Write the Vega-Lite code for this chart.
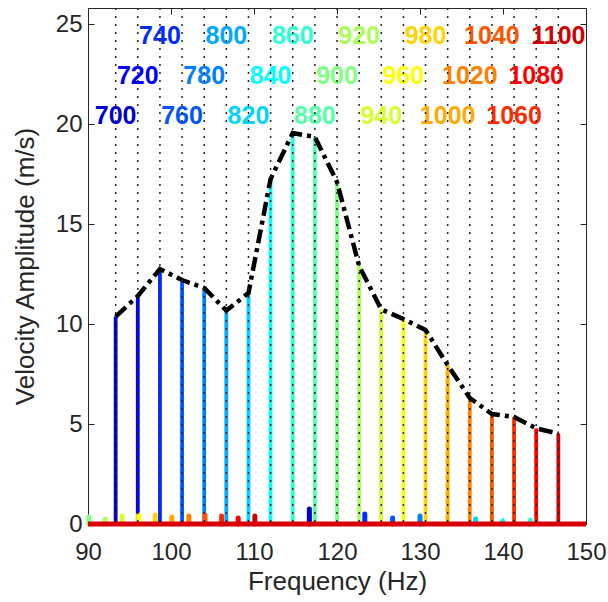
{
  "$schema": "https://vega.github.io/schema/vega-lite/v6.json",
  "width": 498,
  "height": 516,
  "autosize": "none",
  "padding": {"left": 88, "top": 8, "right": 22, "bottom": 78},
  "config": {
    "view": {"stroke": "#262626", "strokeWidth": 1},
    "font": "Liberation Sans",
    "axis": {
      "domain": false,
      "grid": false,
      "labelFlush": false,
      "tickColor": "#262626",
      "tickSize": -6,
      "tickWidth": 1,
      "labelColor": "#262626",
      "labelFont": "Liberation Sans",
      "labelFontSize": 24,
      "titleColor": "#262626",
      "titleFont": "Liberation Sans",
      "titleFontSize": 26,
      "titleFontWeight": "normal"
    }
  },
  "datasets": {
    "peaks": [
      {"rpm": 700, "freq": 93.333, "amp": 10.37, "row": 3},
      {"rpm": 720, "freq": 96.0, "amp": 11.4, "row": 2},
      {"rpm": 740, "freq": 98.667, "amp": 12.75, "row": 1},
      {"rpm": 760, "freq": 101.333, "amp": 12.2, "row": 3},
      {"rpm": 780, "freq": 104.0, "amp": 11.8, "row": 2},
      {"rpm": 800, "freq": 106.667, "amp": 10.67, "row": 1},
      {"rpm": 820, "freq": 109.333, "amp": 11.55, "row": 3},
      {"rpm": 840, "freq": 112.0, "amp": 17.25, "row": 2},
      {"rpm": 860, "freq": 114.667, "amp": 19.55, "row": 1},
      {"rpm": 880, "freq": 117.333, "amp": 19.35, "row": 3},
      {"rpm": 900, "freq": 120.0, "amp": 17.1, "row": 2},
      {"rpm": 920, "freq": 122.667, "amp": 12.9, "row": 1},
      {"rpm": 940, "freq": 125.333, "amp": 10.73, "row": 3},
      {"rpm": 960, "freq": 128.0, "amp": 10.25, "row": 2},
      {"rpm": 980, "freq": 130.667, "amp": 9.7, "row": 1},
      {"rpm": 1000, "freq": 133.333, "amp": 7.95, "row": 3},
      {"rpm": 1020, "freq": 136.0, "amp": 6.3, "row": 2},
      {"rpm": 1040, "freq": 138.667, "amp": 5.5, "row": 1},
      {"rpm": 1060, "freq": 141.333, "amp": 5.35, "row": 3},
      {"rpm": 1080, "freq": 144.0, "amp": 4.78, "row": 2},
      {"rpm": 1100, "freq": 146.667, "amp": 4.52, "row": 1}
    ],
    "harm": [
      {"rpm": 900, "freq": 90.1, "amp": 0.35},
      {"rpm": 920, "freq": 92.07, "amp": 0.25},
      {"rpm": 940, "freq": 94.1, "amp": 0.4},
      {"rpm": 960, "freq": 96.1, "amp": 0.45},
      {"rpm": 980, "freq": 98.1, "amp": 0.45},
      {"rpm": 1000, "freq": 100.1, "amp": 0.35},
      {"rpm": 1020, "freq": 102.15, "amp": 0.4},
      {"rpm": 1040, "freq": 104.1, "amp": 0.45},
      {"rpm": 1060, "freq": 106.1, "amp": 0.4},
      {"rpm": 1080, "freq": 108.1, "amp": 0.3},
      {"rpm": 1100, "freq": 110.1, "amp": 0.4},
      {"rpm": 700, "freq": 116.67, "amp": 0.75},
      {"rpm": 740, "freq": 123.35, "amp": 0.5},
      {"rpm": 760, "freq": 126.7, "amp": 0.3},
      {"rpm": 780, "freq": 130.0, "amp": 0.4},
      {"rpm": 820, "freq": 136.7, "amp": 0.25},
      {"rpm": 840, "freq": 139.95, "amp": 0.15},
      {"rpm": 860, "freq": 143.3, "amp": 0.2}
    ]
  },
  "resolve": {"scale": {"y": "independent"}},
  "layer": [
    {
      "layer": [
        {
          "data": {"name": "peaks"},
          "mark": {"type": "rule", "strokeWidth": 3.8},
          "encoding": {
            "x": {
              "field": "freq", "type": "quantitative",
              "scale": {"domain": [90, 150], "nice": false, "zero": false},
              "axis": {"orient": "bottom", "values": [90, 100, 110, 120, 130, 140, 150], "labelPadding": 22, "title": "Frequency (Hz)", "titlePadding": 4}
            },
            "y": {
              "field": "amp", "type": "quantitative",
              "scale": {"domain": [0, 25.8], "nice": false, "zero": false},
              "axis": {"orient": "left", "values": [0, 5, 10, 15, 20, 25], "labelPadding": 12, "title": "Velocity Amplitude (m/s)", "titlePadding": 17}
            },
            "y2": {"datum": 0},
            "color": {
              "field": "rpm", "type": "ordinal", "legend": null,
              "scale": {
                "domain": [700, 720, 740, 760, 780, 800, 820, 840, 860, 880, 900, 920, 940, 960, 980, 1000, 1020, 1040, 1060, 1080, 1100],
                "range": ["#0000d4", "#0000ff", "#002bff", "#0055ff", "#0080ff", "#00aaff", "#00d4ff", "#00ffff", "#2bffd4", "#55ffaa", "#80ff80", "#aaff55", "#d4ff2b", "#ffff00", "#ffd400", "#ffaa00", "#ff8000", "#ff5500", "#ff2b00", "#ff0000", "#d40000"]
              }
            }
          }
        },
        {
          "data": {"name": "harm"},
          "mark": {"type": "rule", "strokeWidth": 5, "strokeCap": "round"},
          "encoding": {
            "x": {"field": "freq", "type": "quantitative", "axis": null},
            "y": {"field": "amp", "type": "quantitative", "axis": null},
            "y2": {"datum": 0},
            "color": {"field": "rpm", "type": "ordinal", "legend": null}
          }
        },
        {
          "data": {"values": [{"f0": 90, "f1": 150, "a": 0}]},
          "mark": {"type": "rule", "strokeWidth": 5, "color": "#d80000"},
          "encoding": {
            "x": {"field": "f0", "type": "quantitative", "axis": null},
            "x2": {"field": "f1"},
            "y": {"field": "a", "type": "quantitative", "axis": null}
          }
        },
        {
          "data": {"name": "peaks"},
          "mark": {"type": "line", "color": "#000000", "strokeWidth": 4.5, "strokeDash": [14, 5, 4, 5]},
          "encoding": {
            "x": {"field": "freq", "type": "quantitative", "axis": {"orient": "top", "values": [90, 100, 110, 120, 130, 140, 150], "labels": false, "title": null}},
            "y": {"field": "amp", "type": "quantitative", "axis": {"orient": "right", "values": [0, 5, 10, 15, 20, 25], "labels": false, "title": null}}
          }
        }
      ]
    },
    {
      "data": {"name": "peaks"},
      "mark": {"type": "text", "font": "Liberation Sans", "fontSize": 25, "fontWeight": "bold", "align": "center", "baseline": "middle"},
      "encoding": {
        "x": {"field": "freq", "type": "quantitative", "axis": null},
        "y": {"field": "row", "type": "quantitative", "scale": {"domain": [0.3125, 13.2125], "reverse": true, "nice": false, "zero": false}, "axis": null},
        "text": {"field": "rpm", "type": "ordinal"},
        "color": {"field": "rpm", "type": "ordinal", "legend": null}
      }
    },
    {
      "data": {"name": "peaks"},
      "mark": {"type": "rule", "color": "#262626", "strokeWidth": 1.5, "strokeDash": [2, 6]},
      "encoding": {
        "x": {"field": "freq", "type": "quantitative", "axis": null}
      }
    }
  ]
}
